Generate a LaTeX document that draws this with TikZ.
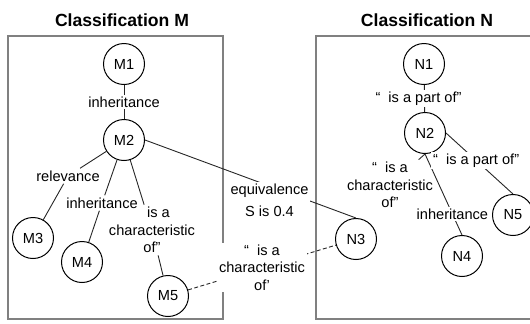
\documentclass[tikz,border=0pt]{standalone}
\usepackage{fontspec}
\setmainfont{Liberation Sans}
\tikzset{
  cls/.style={draw,circle,line width=0.5pt,minimum size=20.5pt,inner sep=0pt,font=\fontsize{7.3}{8.8}\selectfont},
  lbl/.style={fill=white,inner sep=1pt,align=center,font=\fontsize{7.3}{8.8}\selectfont},
  ttl/.style={font=\fontsize{8.8}{10.5}\selectfont\bfseries},
  frame/.style={draw=gray,line width=0.6pt},
  conn/.style={draw=black!85,line width=0.45pt}
}
\begin{document}
\begin{tikzpicture}[x=0.5pt,y=-0.5pt]
\useasboundingbox (0,0) rectangle (530,323);
%\draw[step=20,gray!30,very thin] (0,0) grid (530,323); %helper grid
\node[ttl] (ttlM) at (122,20) {Classification M};
\node[ttl] (ttlN) at (427,20) {Classification N};
\draw[frame] (8,36) rectangle (223,319);
\draw[frame] (540,319) -- (316,319) -- (316,36) -- (540,36);
% classification M
\node[cls] (M1) at (124,64) {M1};
\node[cls] (M2) at (124,140) {M2};
\node[cls] (M3) at (33,238) {M3};
\node[cls] (M4) at (82,262) {M4};
\node[cls] (M5) at (168,296) {M5};
% classification N
\node[cls] (N1) at (424,64) {N1};
\node[cls] (N2) at (425,133) {N2};
\node[cls] (N3) at (356,239) {N3};
\node[cls] (N4) at (462,256) {N4};
\node[cls] (N5) at (513,215) {N5};
% labels the lines run into
\node[lbl] (relv) at (68,176) {relevance};
\node[lbl] (chM5) at (152,230) {\hspace*{6.5pt}is a\\characteristic\\of”};
\node[lbl] (inhM4) at (102,203) {inheritance};
\node[lbl] (chN3) at (390,185) {“\ \ is a\\characteristic\\of”};
% connectors
\draw[conn] (M1) -- node[lbl] (inhM2) {inheritance} (M2);
\draw[conn] (M2) -- (relv) -- (M3);
\draw[conn] (M2) -- (inhM4) -- (M4);
\draw[conn] (M2) -- (chM5) -- (M5);
\draw[conn] (N1) -- node[lbl,xshift=-3pt] (prtN2) {“\ \ is a part of”} (N2);
\draw[conn] (N2.south) -- (chN3);
\draw[conn] (N2.south) -- node[lbl,pos=0.74] (inhN4) {inheritance} (N4.north);
\draw[conn] (N2.east) -- node[lbl,pos=0.45] (prtN5) {“\ \ is a part of”} (N5.north);
\draw[conn] (M2.east) -- node[lbl,pos=0.59,yshift=-7pt] (eqv) {equivalence\\[2pt]S is 0.4} (N3.north);
\draw[conn,dash pattern=on 2pt off 1.2pt] (M5) -- node[lbl] (chX) {“\ \ is a\\characteristic\\of’} (N3);
\end{tikzpicture}
\end{document}
